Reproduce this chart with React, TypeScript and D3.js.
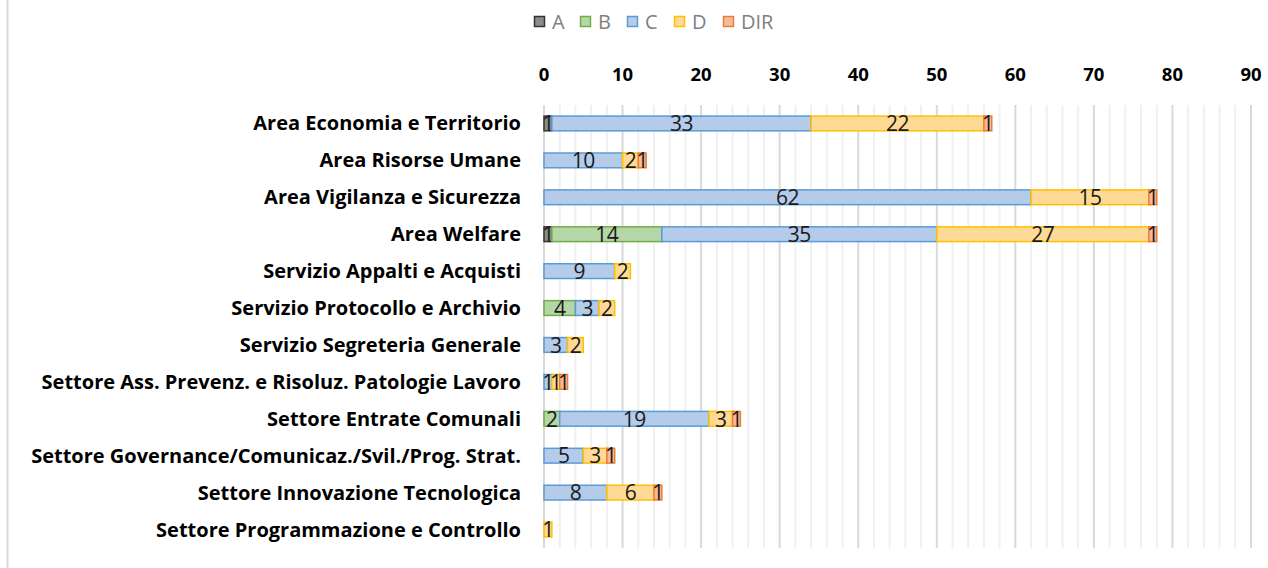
import React from 'react';
import * as d3 from 'd3';

const categories = [
  'Area Economia e Territorio',
  'Area Risorse Umane',
  'Area Vigilanza e Sicurezza',
  'Area Welfare',
  'Servizio Appalti e Acquisti',
  'Servizio Protocollo e Archivio',
  'Servizio Segreteria Generale',
  'Settore Ass. Prevenz. e Risoluz. Patologie Lavoro',
  'Settore Entrate Comunali',
  'Settore Governance/Comunicaz./Svil./Prog. Strat.',
  'Settore Innovazione Tecnologica',
  'Settore Programmazione e Controllo',
];

const seriesKeys = ['A', 'B', 'C', 'D', 'DIR'];

const valuesA = [1, 0, 0, 1, 0, 0, 0, 0, 0, 0, 0, 0];
const valuesB = [0, 0, 0, 14, 0, 4, 0, 0, 2, 0, 0, 0];
const valuesC = [33, 10, 62, 35, 9, 3, 3, 1, 19, 5, 8, 0];
const valuesD = [22, 2, 15, 27, 2, 2, 2, 1, 3, 3, 6, 1];
const valuesDIR = [1, 1, 1, 1, 0, 0, 0, 1, 1, 1, 1, 0];

const xTicks = [0, 10, 20, 30, 40, 50, 60, 70, 80, 90];

const colors: Record<string, { fill: string; stroke: string }> = {
  A: { fill: '#8c8c8c', stroke: '#333333' },
  B: { fill: '#b5d7a8', stroke: '#70ad47' },
  C: { fill: '#b4cbe9', stroke: '#5b9bd5' },
  D: { fill: '#ffd996', stroke: '#ffc000' },
  DIR: { fill: '#f8b89b', stroke: '#ed7d31' },
};

const W = 1268;
const H = 568;

export default function App() {
  const rows = categories.map((name, i) => ({
    name,
    A: valuesA[i],
    B: valuesB[i],
    C: valuesC[i],
    D: valuesD[i],
    DIR: valuesDIR[i],
  }));

  const stacked = d3.stack<any>().keys(seriesKeys)(rows);

  const x = d3.scaleLinear().domain([0, 90]).range([544, 1251]);
  const y = d3
    .scaleBand<string>()
    .domain(categories)
    .range([105, 548])
    .paddingInner(0.6)
    .paddingOuter(0.3);

  const minorTicks = d3.range(0, 91, 2).filter((t) => t % 10 !== 0);
  const font = '"Open Sans", Lato, sans-serif';

  // legend layout
  const legendX = [534, 580, 627, 674, 723];

  return (
    <svg
      width={W}
      height={H}
      style={{ position: 'absolute', left: 0, top: 0, background: '#fff' }}
      fontFamily={font}
    >
      <rect x={0} y={0} width={W} height={H} fill="#fff" />
      <line x1={7.5} x2={7.5} y1={0} y2={H} stroke="#d9d9d9" strokeWidth={2} />

      {/* gridlines */}
      {minorTicks.map((t) => (
        <line key={'m' + t} x1={x(t)} x2={x(t)} y1={105} y2={548} stroke="#f0f0f0" strokeWidth={2} />
      ))}
      {xTicks.map((t) => (
        <line key={'g' + t} x1={x(t)} x2={x(t)} y1={105} y2={548} stroke="#d9d9d9" strokeWidth={2} />
      ))}

      {/* x tick labels on top */}
      {xTicks.map((t) => (
        <text
          key={'t' + t}
          x={x(t)}
          y={75}
          dy="0.35em"
          textAnchor="middle"
          fontSize={18.5}
          fontWeight="bold"
          fill="#000"
        >
          {t}
        </text>
      ))}

      {/* category labels */}
      {categories.map((c) => (
        <text
          key={c}
          x={521}
          y={(y(c) as number) + y.bandwidth() / 2}
          dy="0.35em"
          textAnchor="end"
          fontSize={20}
          fontWeight="bold"
          fill="#000"
        >
          {c}
        </text>
      ))}

      {/* bars */}
      {stacked.map((s) => (
        <g key={s.key}>
          {s.map((d, i) =>
            d[1] - d[0] > 0 ? (
              <rect
                key={i}
                x={x(d[0])}
                y={y(categories[i])}
                width={x(d[1]) - x(d[0])}
                height={y.bandwidth()}
                fill={colors[s.key].fill}
                stroke={colors[s.key].stroke}
                strokeWidth={1.5}
              />
            ) : null
          )}
        </g>
      ))}

      {/* data labels */}
      {stacked.map((s) => (
        <g key={'l' + s.key}>
          {s.map((d, i) =>
            d[1] - d[0] > 0 ? (
              <text
                key={i}
                x={(x(d[0]) + x(d[1])) / 2}
                y={(y(categories[i]) as number) + y.bandwidth() / 2}
                dy="0.37em"
                textAnchor="middle"
                fontSize={21}
                letterSpacing={-0.5}
                fill="#1a1a1a"
              >
                {d[1] - d[0]}
              </text>
            ) : null
          )}
        </g>
      ))}

      {/* legend */}
      {seriesKeys.map((k, i) => (
        <g key={'lg' + k}>
          <rect
            x={legendX[i] + 0.5}
            y={16.5}
            width={10}
            height={10}
            fill={colors[k].fill}
            stroke={colors[k].stroke}
            strokeWidth={1.5}
          />
          <text x={legendX[i] + 18} y={21.5} dy="0.36em" fontSize={20} fill="#808080">
            {k}
          </text>
        </g>
      ))}
    </svg>
  );
}
